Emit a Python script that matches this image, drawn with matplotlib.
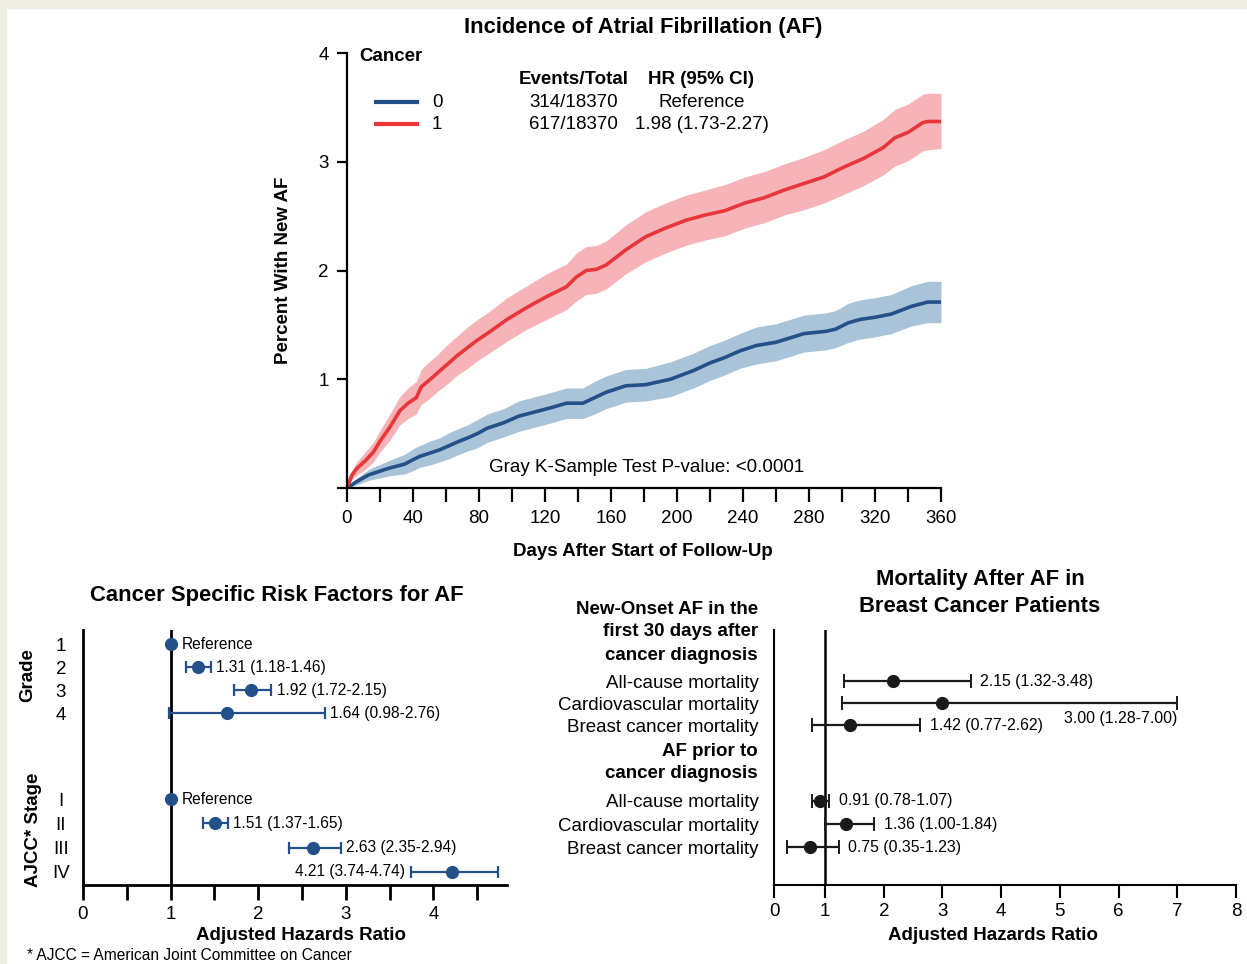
import numpy as np
import matplotlib.pyplot as plt
from matplotlib import font_manager
from matplotlib.patches import Rectangle

# FUENTES
names = {f.name for f in font_manager.fontManager.ttflist}
NARROW = ['Liberation Sans Narrow', 'Liberation Sans', 'DejaVu Sans'] if 'Liberation Sans Narrow' in names else ['Liberation Sans', 'DejaVu Sans']
ARIAL = ['Liberation Sans', 'DejaVu Sans']
plt.rcParams['font.family'] = ARIAL

# DATOS - incidencia acumulada de FA (%)
days_0 = [0, 6, 13, 19, 25, 30, 35, 40, 44, 50, 56, 62, 68, 73, 79, 85, 95, 104, 114, 124, 133, 143, 150,
          157, 169, 181, 196, 210, 220, 229, 238, 248, 260, 277, 290, 296, 304, 311, 320, 330, 342, 352, 360]
af_0 = [0.00, 0.06, 0.12, 0.15, 0.18, 0.20, 0.22, 0.26, 0.29, 0.32, 0.35, 0.39, 0.43, 0.46, 0.50, 0.55, 0.60,
        0.66, 0.70, 0.74, 0.78, 0.78, 0.83, 0.88, 0.94, 0.95, 1.00, 1.08, 1.15, 1.20, 1.26, 1.31, 1.34, 1.42,
        1.44, 1.46, 1.52, 1.55, 1.57, 1.60, 1.67, 1.71, 1.71]
lo_0 = [0.00, 0.03, 0.07, 0.09, 0.11, 0.12, 0.13, 0.16, 0.19, 0.21, 0.24, 0.27, 0.31, 0.34, 0.37, 0.42, 0.47,
        0.52, 0.56, 0.60, 0.64, 0.64, 0.68, 0.73, 0.79, 0.80, 0.84, 0.92, 0.99, 1.04, 1.10, 1.14, 1.17, 1.25,
        1.27, 1.29, 1.34, 1.37, 1.39, 1.42, 1.49, 1.52, 1.52]
hi_0 = [0.00, 0.09, 0.17, 0.21, 0.25, 0.28, 0.31, 0.36, 0.39, 0.43, 0.46, 0.51, 0.55, 0.58, 0.63, 0.68, 0.73,
        0.80, 0.84, 0.88, 0.92, 0.92, 0.98, 1.03, 1.09, 1.10, 1.16, 1.24, 1.31, 1.36, 1.42, 1.48, 1.51, 1.59,
        1.61, 1.63, 1.70, 1.73, 1.75, 1.78, 1.86, 1.90, 1.90]

days_1 = [0, 3, 6, 11, 16, 20, 26, 32, 37, 42, 45, 49, 55, 61, 67, 73, 79, 85, 97, 109, 121, 133, 139, 145,
          151, 157, 169, 181, 193, 205, 217, 229, 241, 253, 265, 277, 289, 301, 313, 325, 332, 340, 349, 352, 360]
af_1 = [0.00, 0.12, 0.18, 0.25, 0.33, 0.43, 0.56, 0.71, 0.78, 0.83, 0.93, 0.98, 1.06, 1.14, 1.22, 1.29, 1.36,
        1.42, 1.55, 1.66, 1.76, 1.85, 1.94, 2.00, 2.01, 2.05, 2.19, 2.31, 2.39, 2.46, 2.51, 2.55, 2.62, 2.67,
        2.74, 2.80, 2.86, 2.95, 3.03, 3.13, 3.22, 3.27, 3.36, 3.37, 3.37]
lo_1 = [0.00, 0.08, 0.12, 0.17, 0.24, 0.33, 0.44, 0.58, 0.64, 0.68, 0.77, 0.81, 0.89, 0.96, 1.04, 1.10, 1.17,
        1.23, 1.35, 1.46, 1.55, 1.64, 1.72, 1.78, 1.79, 1.83, 1.97, 2.08, 2.16, 2.23, 2.28, 2.32, 2.39, 2.44,
        2.51, 2.56, 2.62, 2.70, 2.78, 2.88, 2.96, 3.01, 3.10, 3.11, 3.12]
hi_1 = [0.00, 0.16, 0.24, 0.33, 0.42, 0.53, 0.68, 0.84, 0.92, 0.98, 1.09, 1.15, 1.23, 1.32, 1.40, 1.48, 1.55,
        1.61, 1.75, 1.86, 1.97, 2.06, 2.16, 2.22, 2.23, 2.27, 2.42, 2.54, 2.62, 2.69, 2.74, 2.79, 2.86, 2.91,
        2.98, 3.04, 3.11, 3.20, 3.28, 3.39, 3.48, 3.53, 3.62, 3.63, 3.63]

legend_groups = ['0', '1']
legend_events = ['314/18370', '617/18370']
legend_hr = ['Reference', '1.98 (1.73-2.27)']

# DATOS - factores de riesgo
grade_labels = ['1', '2', '3', '4']
grade_hr = [1.00, 1.31, 1.92, 1.64]
grade_lo = [1.00, 1.18, 1.72, 0.98]
grade_hi = [1.00, 1.46, 2.15, 2.76]
stage_labels = ['I', 'II', 'III', 'IV']
stage_hr = [1.00, 1.51, 2.63, 4.21]
stage_lo = [1.00, 1.37, 2.35, 3.74]
stage_hi = [1.00, 1.65, 2.94, 4.74]

# DATOS - mortalidad
mort_labels = ['All-cause mortality', 'Cardiovascular mortality', 'Breast cancer mortality']
new_hr = [2.15, 3.00, 1.42]
new_lo = [1.32, 1.28, 0.77]
new_hi = [3.48, 7.00, 2.62]
prior_hr = [0.91, 1.36, 0.75]
prior_lo = [0.78, 1.00, 0.35]
prior_hi = [1.07, 1.84, 1.23]

BLUE = '#24508a'
RED = '#e8363a'
BLUE_BAND = '#a9c3d9'
RED_BAND = '#f6b3b8'

W, H = 1247, 964
fig = plt.figure(figsize=(W / 100, H / 100), dpi=100)
fig.patch.set_facecolor('white')
fig.patches.append(Rectangle((0, 1 - 8 / H), 1, 8 / H, transform=fig.transFigure, color='#eeeee3', zorder=-5))
fig.patches.append(Rectangle((0, 0), 6 / W, 1, transform=fig.transFigure, color='#eeeee3', zorder=-5))


def fx(px):
    return px / W


def fy(py):
    return 1 - py / H


def axes_px(left, top, right, bottom):
    return fig.add_axes([fx(left), fy(bottom), (right - left) / W, (bottom - top) / H])


# GRAFICA SUPERIOR
ax = axes_px(347, 53, 941, 488)
ax.fill_between(days_0, lo_0, hi_0, color=BLUE_BAND, lw=0)
ax.fill_between(days_1, lo_1, hi_1, color=RED_BAND, lw=0)
ax.plot(days_0, af_0, color=BLUE, lw=2.6)
ax.plot(days_1, af_1, color=RED, lw=2.6)
ax.set_xlim(0, 360)
ax.set_ylim(0, 4)
for s in ['top', 'right']:
    ax.spines[s].set_visible(False)
for s in ['left', 'bottom']:
    ax.spines[s].set_linewidth(1.6)
ax.set_xticks(np.arange(0, 361, 20))
ax.set_xticklabels([str(d) if d % 40 == 0 else '' for d in range(0, 361, 20)], family=NARROW, fontsize=13.5)
ax.set_yticks([0, 1, 2, 3, 4])
ax.set_yticklabels(['', '1', '2', '3', '4'], family=NARROW, fontsize=13.5)
ax.tick_params(axis='x', length=10, width=1.6, pad=6)
ax.tick_params(axis='y', length=7, width=1.6, pad=6)

tr = ax.transAxes
ax.text(0.020, 0.991, 'Cancer', transform=tr, family=NARROW, fontsize=13.5, weight='bold', va='center')
ax.text(0.382, 0.938, 'Events/Total', transform=tr, family=NARROW, fontsize=13.5, weight='bold', ha='center', va='center')
ax.text(0.596, 0.938, 'HR (95% CI)', transform=tr, family=NARROW, fontsize=13.5, weight='bold', ha='center', va='center')
for i, (g, col) in enumerate(zip(legend_groups, [BLUE, RED])):
    yy = 0.887 - i * 0.051
    ax.plot([0.0488, 0.1178], [yy, yy], transform=tr, color=col, lw=3, clip_on=False)
    ax.text(0.143, yy, g, transform=tr, family=NARROW, fontsize=13.5, va='center')
    ax.text(0.382, yy, legend_events[i], transform=tr, family=NARROW, fontsize=13.5, ha='center', va='center')
    ax.text(0.597, yy, legend_hr[i], transform=tr, family=NARROW, fontsize=13.5, ha='center', va='center')
ax.text(0.505, 0.046, 'Gray K-Sample Test P-value: <0.0001', transform=tr, family=NARROW, fontsize=13.5,
        ha='center', va='center')

fig.text(fx(643), fy(27), 'Incidence of Atrial Fibrillation (AF)', family=NARROW, fontsize=15.8, weight='bold',
         ha='center', va='center')
fig.text(fx(284), fy(270), 'Percent With New AF', family=NARROW, fontsize=13.5, weight='bold', rotation=90,
         ha='center', va='center')
fig.text(fx(643), fy(552), 'Days After Start of Follow-Up', family=NARROW, fontsize=13.5, weight='bold',
         ha='center', va='center')

# GRAFICA INFERIOR IZQUIERDA
ax2 = axes_px(83, 630, 507, 885)
grade_rows = [0, 1, 2, 3]
stage_rows = [6.75, 7.8, 8.85, 9.9]
ax2.axvline(1, color='black', lw=2, zorder=1)
for rows, hr, lo, hi in [(grade_rows, grade_hr, grade_lo, grade_hi), (stage_rows, stage_hr, stage_lo, stage_hi)]:
    for r, h, l, u in zip(rows, hr, lo, hi):
        if l == u:
            ax2.plot(h, r, 'o', color=BLUE, ms=8.5, zorder=3)
            ax2.annotate('Reference', (h, r), xytext=(8, 0), textcoords='offset points', va='center',
                         fontsize=11.2)
        else:
            ax2.errorbar(h, r, xerr=[[h - l], [u - h]], fmt='o', color=BLUE, ms=8.5, lw=1.6, capsize=4.5,
                         capthick=1.6, zorder=3)
            txt = '%.2f (%.2f-%.2f)' % (h, l, u)
            if u > 4.5:
                ax2.annotate(txt, (l, r), xytext=(-4, 0), textcoords='offset points', va='center', ha='right',
                             fontsize=11.2)
            else:
                ax2.annotate(txt, (u, r), xytext=(4, 0), textcoords='offset points', va='center', fontsize=11.2)
ax2.set_xlim(0, 4.84)
ax2.set_ylim(10.48, -0.61)
for s in ['top', 'right']:
    ax2.spines[s].set_visible(False)
for s in ['left', 'bottom']:
    ax2.spines[s].set_linewidth(2)
ax2.set_xticks(np.arange(0, 4.6, 0.5))
ax2.set_xticklabels([str(int(v)) if v == int(v) else '' for v in np.arange(0, 4.6, 0.5)], fontsize=13.5)
ax2.tick_params(axis='x', length=11, width=2, pad=4)
ax2.set_yticks(grade_rows + stage_rows)
ax2.set_yticklabels(grade_labels + stage_labels, fontsize=13.5, ha='center')
ax2.tick_params(axis='y', length=0, pad=16)

fig.text(fx(277), fy(595), 'Cancer Specific Risk Factors for AF', fontsize=15.8, weight='bold',
         ha='center', va='center')
fig.text(fx(28), fy(675), 'Grade', fontsize=13.5, weight='bold', rotation=90, ha='center', va='center')
fig.text(fx(33), fy(830), 'AJCC* Stage', fontsize=13.5, weight='bold', rotation=90, ha='center', va='center')
fig.text(fx(301), fy(935), 'Adjusted Hazards Ratio', fontsize=13.5, weight='bold', ha='center', va='center')
fig.text(fx(27), fy(956), '* AJCC = American Joint Committee on Cancer', fontsize=11.2, ha='left', va='center')

# GRAFICA INFERIOR DERECHA
ax3 = axes_px(774, 630, 1236, 885)
new_rows = [0, 1, 2]
prior_rows = [5.45, 6.5, 7.55]
x_left = 0.13
ax3.axvline(1, color='black', lw=1.8, zorder=1)
for rows, hr, lo, hi in [(new_rows, new_hr, new_lo, new_hi), (prior_rows, prior_hr, prior_lo, prior_hi)]:
    for r, h, l, u in zip(rows, hr, lo, hi):
        ax3.errorbar(h, r, xerr=[[h - l], [u - h]], fmt='o', color='#1a1a1a', ms=8.5, lw=1.6, capsize=5,
                     capthick=1.4, zorder=3)
        txt = '%.2f (%.2f-%.2f)' % (h, l, u)
        if u > 6:
            ax3.annotate(txt, (u, r), xytext=(0, -11), textcoords='offset points', va='center', ha='right',
                         family=NARROW, fontsize=11.4)
        else:
            ax3.annotate(txt, (u, r), xytext=(7, 0), textcoords='offset points', va='center',
                         family=NARROW, fontsize=11.4)
ax3.set_xlim(x_left, 8)
ax3.set_ylim(9.27, -2.32)
for s in ['top', 'right']:
    ax3.spines[s].set_visible(False)
for s in ['left', 'bottom']:
    ax3.spines[s].set_linewidth(1.5)
ax3.set_xticks([x_left] + list(range(1, 9)))
ax3.set_xticklabels([str(v) for v in range(0, 9)], family=NARROW, fontsize=13.5)
ax3.tick_params(axis='x', length=9, width=1.5, pad=4)
ax3.set_yticks(new_rows + prior_rows)
ax3.set_yticklabels(mort_labels + mort_labels, family=NARROW, fontsize=13.5)
ax3.tick_params(axis='y', length=0, pad=11)

fig.text(fx(980), fy(579), 'Mortality After AF in', family=NARROW, fontsize=15.8, weight='bold',
         ha='center', va='center')
fig.text(fx(980), fy(606), 'Breast Cancer Patients', family=NARROW, fontsize=15.8, weight='bold',
         ha='center', va='center')
for t, py in [('New-Onset AF in the', 609), ('first 30 days after', 632), ('cancer diagnosis', 655),
              ('AF prior to', 751), ('cancer diagnosis', 773)]:
    fig.text(fx(758), fy(py), t, family=NARROW, fontsize=13.5, weight='bold', ha='right', va='center')
fig.text(fx(993), fy(935), 'Adjusted Hazards Ratio', family=NARROW, fontsize=13.5, weight='bold',
         ha='center', va='center')

fig.savefig('out.png', dpi=100)
